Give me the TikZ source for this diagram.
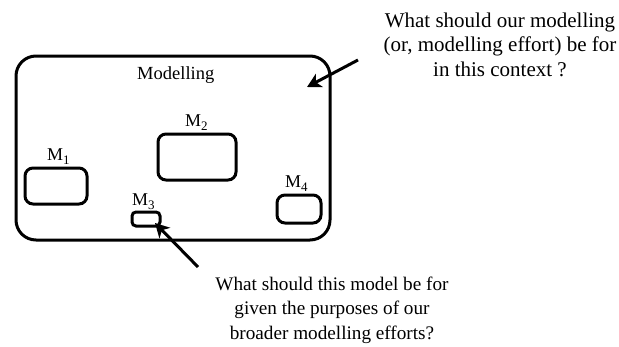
\documentclass[tikz,border=0pt]{standalone}
\usepackage{fontspec}
\setmainfont{Liberation Serif}
\usetikzlibrary{arrows.meta}
\tikzset{
  x=1pt,y=-1pt,
  bigbox/.style={draw, line width=3pt, rounded corners=20pt, inner sep=0pt, outer sep=0pt},
  mbox/.style={draw, line width=3pt, rounded corners=8pt, inner sep=0pt, outer sep=0pt},
  smallbox/.style={draw, line width=3pt, rounded corners=4pt, inner sep=0pt, outer sep=0pt},
  mlabel/.style={anchor=base west, inner sep=0pt, font=\fontsize{18}{20}\selectfont},
  question/.style={align=center, inner sep=0pt},
  arr/.style={line width=3pt, -{Stealth[length=14pt,width=15pt,inset=4pt]}}
}
\begin{document}
\begin{tikzpicture}
\useasboundingbox (0,0) rectangle (619,346);
% main box
\node[bigbox, minimum width=314pt, minimum height=184pt] (mod) at (173,148) {};
\node[anchor=base west, inner sep=0pt, font=\fontsize{18.5}{20}\selectfont] (modlab) at (137,79) {Modelling};
% inner models
\node[mbox, minimum width=62pt, minimum height=36pt] (m1) at (56,186) {};
\node[mbox, minimum width=78pt, minimum height=46pt] (m2) at (197,157) {};
\node[smallbox, minimum width=28pt, minimum height=14pt] (m3) at (146,219) {};
\node[mbox, minimum width=44pt, minimum height=28pt] (m4) at (299,209) {};
\node[mlabel] (l1) at (47,160) {M\raisebox{-0.25em}{\fontsize{13}{14}\selectfont 1}};
\node[mlabel] (l2) at (185,126) {M\raisebox{-0.25em}{\fontsize{13}{14}\selectfont 2}};
\node[mlabel] (l3) at (132,205) {M\raisebox{-0.25em}{\fontsize{13}{14}\selectfont 3}};
\node[mlabel] (l4) at (285,187) {M\raisebox{-0.25em}{\fontsize{13}{14}\selectfont 4}};
% questions
\node[question, anchor=base, font=\fontsize{21}{24.5}\selectfont] (q1) at (500,76)
  {What should our modelling\\(or, modelling effort) be for\\in this context ?};
\node[question, anchor=base, font=\fontsize{19.2}{24.5}\selectfont] (q2) at (332,339)
  {What should this model be for\\given the purposes of our\\broader modelling efforts?};
% arrows
\coordinate (t1) at (358,60);
\coordinate (h1) at (307,87);
\coordinate (t2) at (198,267);
\coordinate (h2) at (155,223);
\draw[arr] (t1) -- (h1);
\draw[arr] (t2) -- (h2);
\end{tikzpicture}
\end{document}
